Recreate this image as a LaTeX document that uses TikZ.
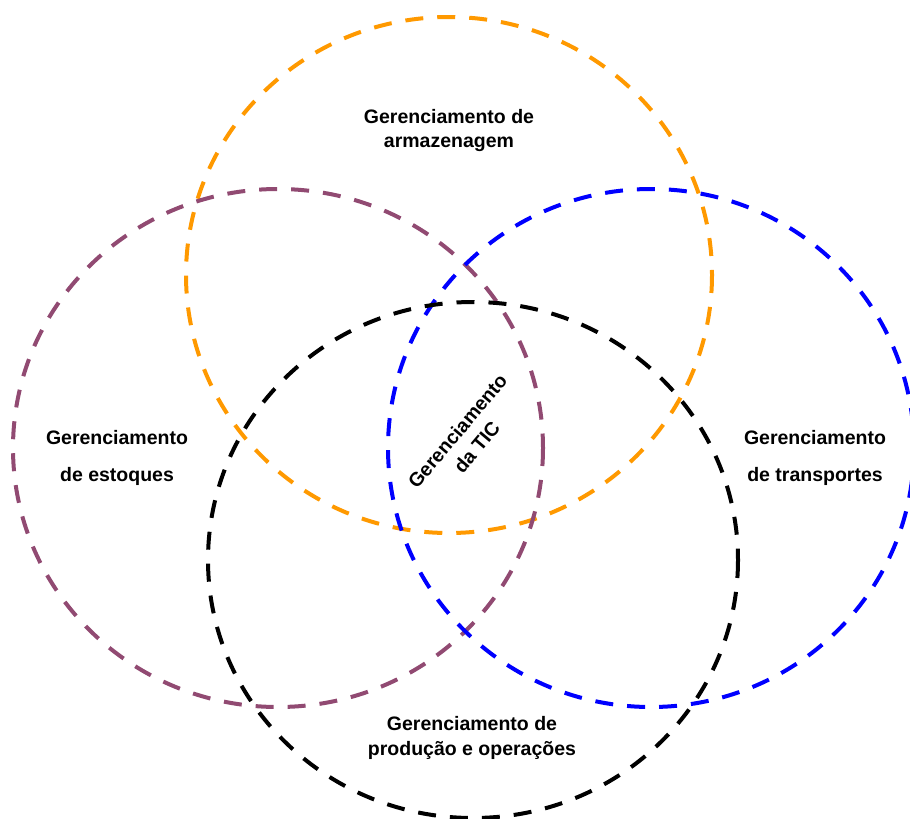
\documentclass[tikz,border=0pt]{standalone}
\usepackage{fontspec}
\setmainfont{Liberation Sans}
\definecolor{ringorange}{RGB}{255,153,0}
\definecolor{ringpurple}{RGB}{145,74,114}
\definecolor{ringblue}{RGB}{0,0,255}
\begin{document}
\begin{tikzpicture}[x=1pt,y=-1pt,
  ring/.style={line width=4pt,dash pattern=on 18pt off 14pt},
  lbl/.style={font=\bfseries\fontsize{19.5}{#1}\selectfont,align=center,inner sep=0pt},
  lbl/.default=37]
\useasboundingbox (0,0) rectangle (910,819);
\clip (0,0) rectangle (910,819);
% the four management areas
\draw[ring,ringorange] (449,275) ellipse [x radius=263,y radius=258];
\draw[ring,ringpurple] (278,448) ellipse [x radius=265,y radius=259];
\draw[ring,ringblue] (651,448) ellipse [x radius=263,y radius=259];
\draw[ring,black] (473,560) ellipse [x radius=265,y radius=258];
% labels
\node[lbl=24] (arm) at (449,130) {Gerenciamento de\\armazenagem};
\node[lbl] (est) at (117,458) {Gerenciamento\\de estoques};
\node[lbl] (tra) at (815,458) {Gerenciamento\\de transportes};
\node[lbl=25] (pro) at (472,738) {Gerenciamento de\\produção e operações};
\node[lbl=25,rotate=50] (tic) at (467,439) {Gerenciamento\\da TIC};
\end{tikzpicture}
\end{document}
